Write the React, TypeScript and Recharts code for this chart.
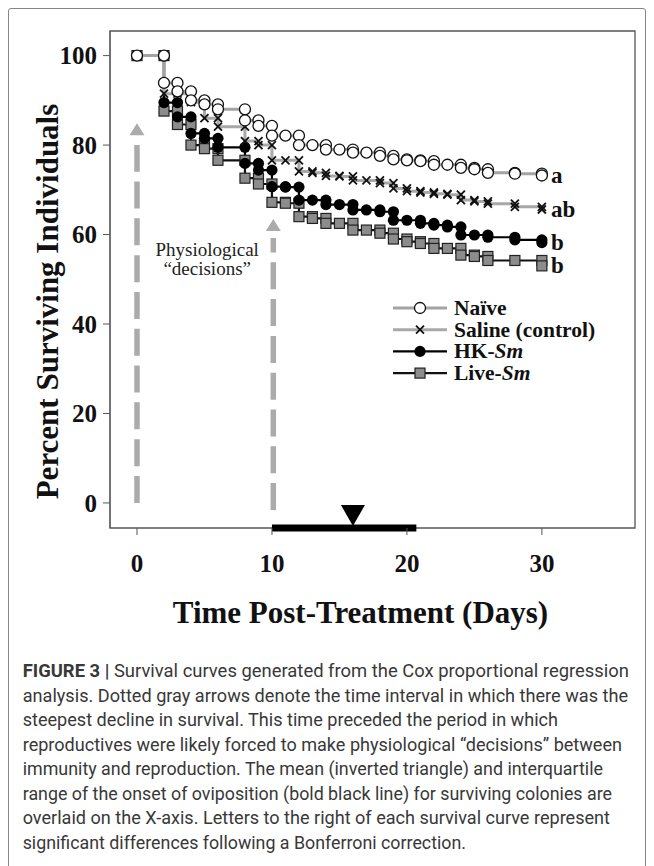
import React from 'react';
import { LineChart, Line, XAxis, YAxis, ReferenceLine, ReferenceDot, ReferenceArea, Legend } from 'recharts';

// days with an observation
const days = [0, 2, 3, 4, 5, 6, 8, 9, 10, 11, 12, 13, 14, 15, 16, 17, 18, 19, 20, 21, 22, 23, 24, 25, 26, 28, 30];

// percent surviving after each day
const naive = [100, 93.9, 92.0, 90.0, 89.1, 88.0, 85.5, 84.3, 82.1, 82.1, 80.0, 80.0, 79.0, 79.0, 78.3, 78.3, 77.6, 76.8, 76.6, 76.4, 75.6, 75.6, 74.9, 74.6, 73.8, 73.6, 73.2];
const saline = [100, 91.5, 91.5, 89.6, 86.0, 84.1, 80.9, 80.0, 76.6, 76.6, 74.1, 73.8, 73.1, 73.0, 72.1, 72.1, 71.5, 70.3, 69.7, 69.4, 69.1, 68.9, 67.7, 67.4, 66.9, 66.2, 65.6];
const hkSm = [100, 89.5, 86.3, 82.6, 81.5, 79.5, 75.9, 74.4, 70.7, 70.6, 67.7, 67.7, 66.7, 66.7, 65.5, 65.5, 65.1, 63.2, 63.2, 62.5, 62.1, 61.7, 59.9, 59.9, 59.4, 58.8, 58.2];
const liveSm = [100, 87.6, 84.6, 80.0, 79.2, 76.6, 72.6, 71.3, 67.2, 67.0, 64.0, 63.6, 62.5, 62.5, 61.0, 61.0, 60.3, 59.0, 58.4, 58.0, 56.9, 56.9, 55.4, 55.1, 54.2, 54.2, 53.0];

const seriesNames = ['Naïve', 'Saline (control)', 'HK-', 'Live-'];
const seriesItalic = ['', '', 'Sm', 'Sm'];
const groupLetters = ['a', 'ab', 'b', 'b'];

const xTicks = [0, 10, 20, 30];
const yTicks = [0, 20, 40, 60, 80, 100];
const xDomain = [-2, 36.9];
const yDomain = [-5.6, 105.5];

// dotted gray arrows
const arrowDays = [0, 10.1];
const arrowBottoms = [0, -1.6];
const arrowTops = [80.0, 59.2];
const arrowTips = [84.9, 63.5];

// onset of oviposition
const ovipositionIqr = [10, 20.7];
const ovipositionMean = 16;

const captionLines = [
  'Survival curves generated from the Cox proportional regression',
  'analysis. Dotted gray arrows denote the time interval in which there was the',
  'steepest decline in survival. This time preceded the period in which',
  'reproductives were likely forced to make physiological “decisions” between',
  'immunity and reproduction. The mean (inverted triangle) and interquartile',
  'range of the onset of oviposition (bold black line) for surviving colonies are',
  'overlaid on the X-axis. Letters to the right of each survival curve represent',
  'significant differences following a Bonferroni correction.',
];
const captionEnds = [629, 628, 558, 622, 603, 612, 610, 466];

const SERIF = "'Liberation Serif', 'Times New Roman', serif";

type Kind = 'circle' | 'x' | 'dot' | 'square';

const series = [
  { values: naive, color: '#a3a3a3', width: 3, marker: 'circle' as Kind },
  { values: saline, color: '#a8a8a8', width: 3, marker: 'x' as Kind },
  { values: hkSm, color: '#000', width: 2.2, marker: 'dot' as Kind },
  { values: liveSm, color: '#111', width: 2.2, marker: 'square' as Kind },
];

function toSteps(values: number[]) {
  const pts: { day: number; pct: number }[] = [];
  values.forEach((v, i) => {
    if (i > 0 && v !== values[i - 1]) pts.push({ day: days[i], pct: values[i - 1] });
    pts.push({ day: days[i], pct: v });
  });
  return pts;
}

function Marker({ kind, cx, cy }: { kind: Kind; cx?: number; cy?: number }) {
  if (cx == null || cy == null) return null;
  if (kind === 'circle') return <circle cx={cx} cy={cy} r={5.5} fill="#fff" stroke="#111" strokeWidth={1.3} />;
  if (kind === 'dot') return <circle cx={cx} cy={cy} r={5.6} fill="#000" />;
  if (kind === 'square')
    return <rect x={cx - 5} y={cy - 5} width={10} height={10} fill="#8c8c8c" stroke="#222" strokeWidth={1.2} />;
  return (
    <g stroke="#111" strokeWidth={1.8}>
      <line x1={cx - 4} y1={cy - 4} x2={cx + 4} y2={cy + 4} />
      <line x1={cx - 4} y1={cy + 4} x2={cx + 4} y2={cy - 4} />
    </g>
  );
}

function LegendBox() {
  return (
    <svg width={240} height={96} style={{ display: 'block' }}>
      {series.map((s, i) => {
        const y = 12 + i * 21.7;
        return (
          <g key={i}>
            <line x1={8} x2={62} y1={y} y2={y} stroke={s.color} strokeWidth={s.width} />
            <Marker kind={s.marker} cx={35} cy={y} />
            <text x={69} y={y} dominantBaseline="central" fontFamily={SERIF} fontWeight={700} fontSize={21.5} fill="#111">
              {seriesNames[i]}
              {seriesItalic[i] && <tspan fontStyle="italic">{seriesItalic[i]}</tspan>}
            </text>
          </g>
        );
      })}
    </svg>
  );
}

export default function App() {
  const tickStyle = { fontFamily: SERIF, fontSize: 25, fontWeight: 700, fill: '#111' };
  const last = days[days.length - 1];
  const yBottom = yDomain[0];

  return (
    <div style={{ position: 'relative', width: 638, height: 858 }}>
      <style>{'body{overflow:hidden}'}</style>
      <div
        style={{
          position: 'absolute', left: 0, top: 0, width: 638, height: 920,
          border: '1.5px solid #858585', borderRadius: 3, boxSizing: 'border-box',
        }}
      />
      <div style={{ position: 'absolute', left: 0, top: 0 }}>
        <LineChart width={638} height={650} margin={{ top: 23, right: 11, left: 42, bottom: 90 }}>
          <ReferenceArea x1={xDomain[0]} x2={xDomain[1]} y1={yDomain[0]} y2={yDomain[1]} fill="none" stroke="#555" strokeWidth={1.3} />
          <XAxis
            type="number"
            dataKey="day"
            domain={xDomain}
            ticks={xTicks}
            allowDataOverflow
            height={40}
            axisLine={false}
            tickSize={7}
            tickMargin={19}
            stroke="#555"
            tick={tickStyle}
            label={{
              content: (p: any) => {
                const vb = p.viewBox;
                return (
                  <text x={vb.x + vb.width / 2 - 12} y={vb.y + 84} textAnchor="middle" dominantBaseline="central"
                    fontFamily={SERIF} fontWeight={700} fontSize={31} fill="#111">
                    Time Post-Treatment (Days)
                  </text>
                );
              },
            }}
          />
          <YAxis
            type="number"
            domain={yDomain}
            ticks={yTicks}
            allowDataOverflow
            width={60}
            tickSize={7}
            tickMargin={6}
            stroke="#555"
            tick={tickStyle}
            label={{
              content: (p: any) => {
                const vb = p.viewBox;
                const cx = vb.x - 3;
                const cy = vb.y + vb.height / 2 + 22;
                return (
                  <text x={cx} y={cy} transform={`rotate(-90, ${cx}, ${cy})`} textAnchor="middle" dominantBaseline="central"
                    fontFamily={SERIF} fontWeight={700} fontSize={31} fill="#111">
                    Percent Surviving Individuals
                  </text>
                );
              },
            }}
          />

          {arrowDays.map((d, i) => (
            <ReferenceLine
              key={`arrow-${i}`}
              segment={[{ x: d, y: arrowBottoms[i] }, { x: d, y: arrowTops[i] }]}
              stroke="#ababab"
              strokeWidth={5.5}
              strokeDasharray="27 9.8"
            />
          ))}
          {arrowDays.map((d, i) => (
            <ReferenceDot
              key={`tip-${i}`}
              x={d}
              y={arrowTips[i]}
              shape={(p: any) => (
                <polygon points={`${p.cx},${p.cy} ${p.cx - 7.5},${p.cy + 12} ${p.cx + 7.5},${p.cy + 12}`} fill="#ababab" />
              )}
            />
          ))}

          <ReferenceDot
            x={5.2}
            y={56.5}
            shape={(p: any) => (
              <g fontFamily={SERIF} fontSize={19} fill="#222" textAnchor="middle">
                <text x={p.cx} y={p.cy - 1} dominantBaseline="central">Physiological</text>
                <text x={p.cx} y={p.cy + 18} dominantBaseline="central">“decisions”</text>
              </g>
            )}
          />

          {[...series].reverse().map((s, ri) => {
            const i = series.length - 1 - ri;
            return (
              <Line
                key={`s-${i}`}
                data={toSteps(s.values)}
                dataKey="pct"
                type="linear"
                stroke={s.color}
                strokeWidth={s.width}
                dot={(p: any) => <Marker key={`m-${i}-${p.index}`} kind={s.marker} cx={p.cx} cy={p.cy} />}
                activeDot={false}
                isAnimationActive={false}
                legendType="none"
              />
            );
          })}

          {series.map((s, i) => (
            <ReferenceDot
              key={`letter-${i}`}
              x={last}
              y={s.values[s.values.length - 1]}
              shape={(p: any) => (
                <text x={p.cx + 9} y={p.cy} dominantBaseline="central" fontFamily={SERIF} fontWeight={700} fontSize={23} fill="#111">
                  {groupLetters[i]}
                </text>
              )}
            />
          ))}

          <ReferenceLine
            segment={[{ x: ovipositionIqr[0], y: yBottom }, { x: ovipositionIqr[1], y: yBottom }]}
            stroke="#000"
            strokeWidth={7}
          />
          <ReferenceDot
            x={ovipositionMean}
            y={yBottom}
            shape={(p: any) => (
              <polygon points={`${p.cx - 12},${p.cy - 23} ${p.cx + 12},${p.cy - 23} ${p.cx},${p.cy - 2}`} fill="#000" />
            )}
          />

          <Legend
            content={() => <LegendBox />}
            layout="vertical"
            align="center"
            verticalAlign="middle"
            wrapperStyle={{ left: 377, top: 288, width: 240 }}
          />
        </LineChart>
      </div>

      <svg width={638} height={230} style={{ position: 'absolute', left: 0, top: 640 }}>
        {captionLines.map((line, i) => (
          <text
            key={i}
            x={14.7}
            y={29.3 + i * 24.5}
            textLength={captionEnds[i] - 22.7}
            lengthAdjust="spacingAndGlyphs"
            fontFamily="'Roboto', 'Liberation Sans', sans-serif"
            fontSize={17.5}
            fill="#383838"
          >
            {i === 0 && <tspan fontWeight={700}>FIGURE 3 | </tspan>}
            {line}
          </text>
        ))}
      </svg>
    </div>
  );
}
